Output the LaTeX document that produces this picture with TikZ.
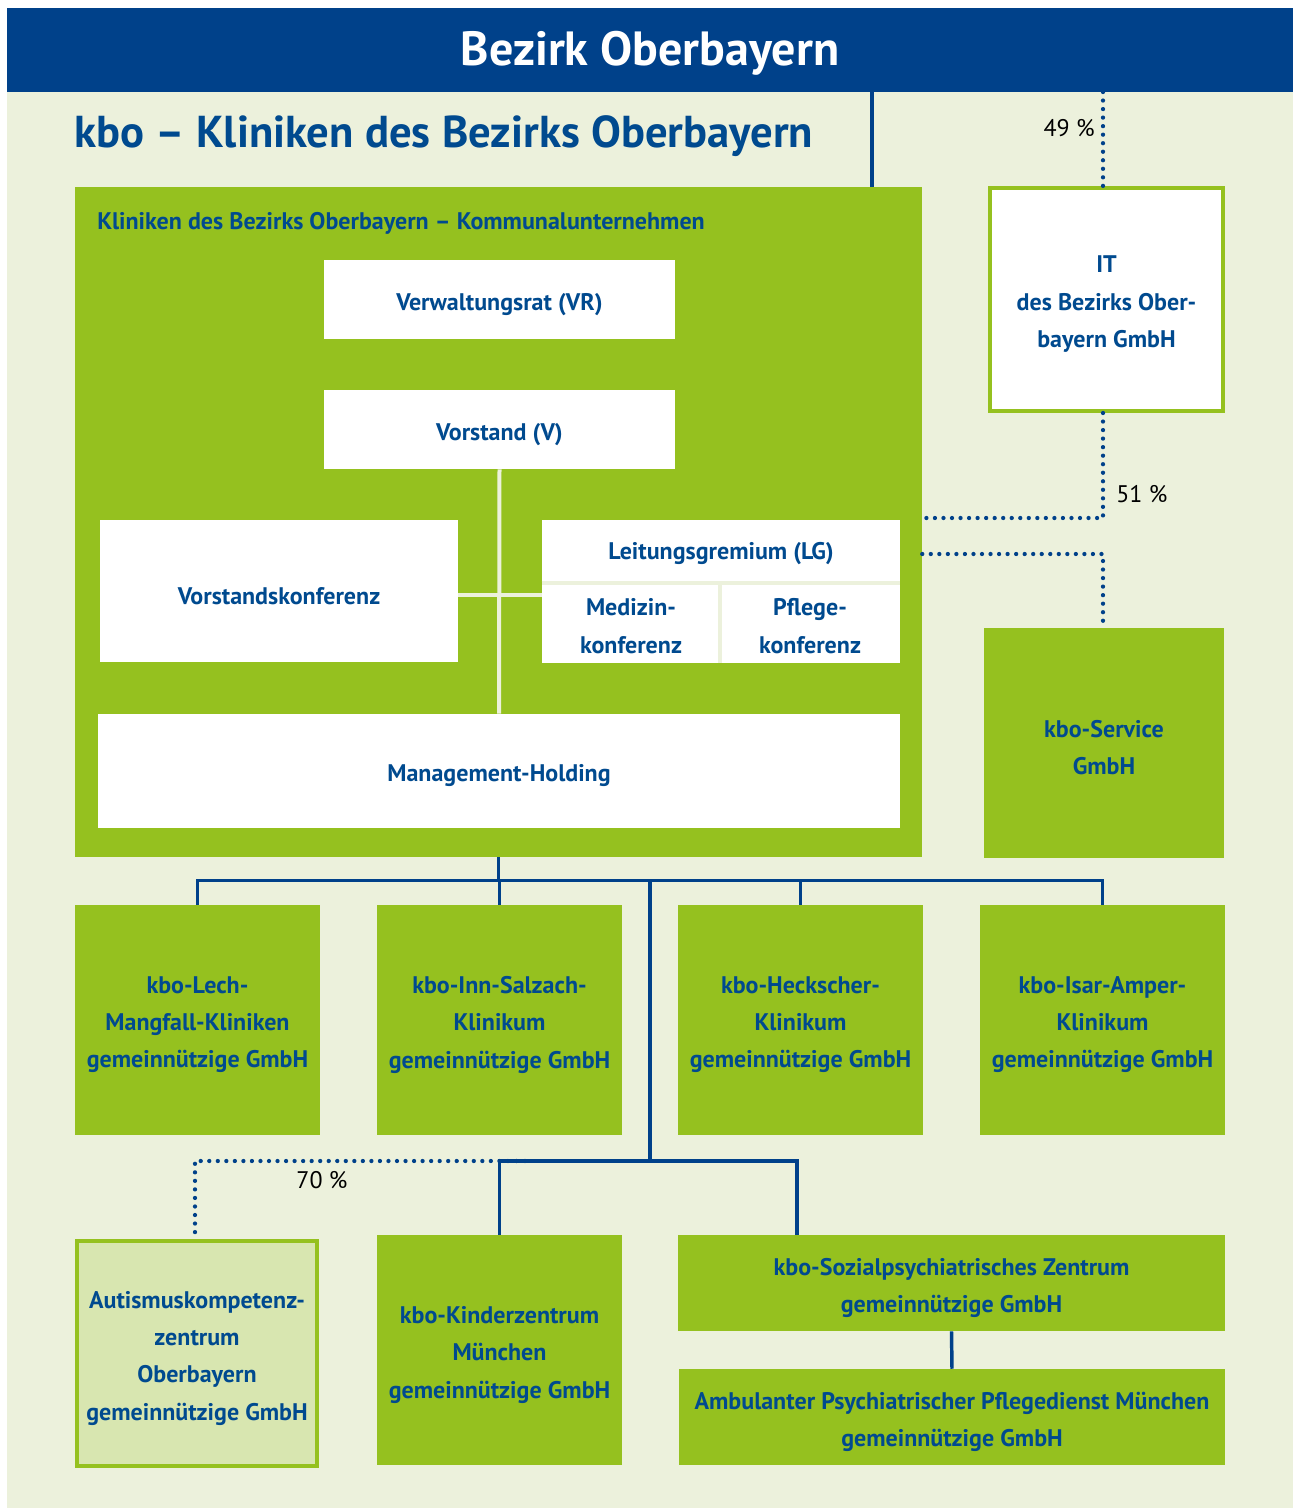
\documentclass[tikz,border=0pt]{standalone}
\usepackage{fontspec}
\setmainfont{PT Sans}
\newfontfamily\lab{PT Sans}
\usetikzlibrary{fit}
\definecolor{kblue}{HTML}{00418A}
\definecolor{kgreen}{HTML}{95C11F}
\definecolor{kbg}{HTML}{ECF1DC}
\definecolor{klight}{HTML}{D8E6B0}
\definecolor{ktext}{HTML}{004A8F}
\begin{document}
\begin{tikzpicture}[x=0.75pt,y=-0.75pt,
  lbl/.style={font=\lab\bfseries\fontsize{18}{28}\selectfont, text=ktext, align=center, inner sep=0pt},
  blbl/.style={lbl, yshift=-3.5pt},
  gbox/.style={fit={#1}, inner sep=0pt, fill=kgreen},
  wbox/.style={fit={#1}, inner sep=0pt, fill=white},
  obox/.style={fit={#1}, inner sep=0pt, fill=white, draw=kgreen, line width=3pt},
  lbox/.style={fit={#1}, inner sep=0pt, fill=klight, draw=kgreen, line width=3pt},
  bl/.style={draw=kblue, line width=2.6pt},
  dotl/.style={draw=kblue, line width=3.2pt, line cap=round, dash pattern=on 0pt off 6.4pt},
  lightl/.style={draw=kbg, line width=3pt},
  pct/.style={font=\lab\fontsize{18}{20}\selectfont, text=black, inner sep=0pt}]
\useasboundingbox (0,0) rectangle (1293,1511);
\fill[kbg] (7,92) rectangle (1293,1508);
\node[fit={(7,8)(1293,92)}, inner sep=0pt, fill=kblue] (banner) {};
\node[text=white, inner sep=0pt, font=\lab\bfseries\fontsize{36}{40}\selectfont] (bantxt) at (650,53) {Bezirk Oberbayern};
\node[anchor=west, inner sep=0pt, text=ktext, font=\lab\bfseries\fontsize{33.5}{36}\selectfont] (title) at (74,136) {kbo – Kliniken des Bezirks Oberbayern};

% main green box
\node[gbox={(75,187)(922,857)}] (kk) {};
\node[anchor=west, lbl] (kklab) at (97,223) {Kliniken des Bezirks Oberbayern – Kommunalunternehmen};
\node[wbox={(324,260)(675,339)}] (vr) {};
\node[blbl] at (vr) {Verwaltungsrat (VR)};
\node[wbox={(324,390)(675,469)}] (v) {};
\node[blbl] at (v) {Vorstand (V)};
\node[wbox={(100,520)(458,662)}] (vk) {};
\node[blbl] at (vk) {Vorstandskonferenz};
\node[wbox={(542,520)(900,663)}] (lg) {};
\node[wbox={(98,714)(900,828)}] (mh) {};
\node[blbl] at (mh) {Management-Holding};
\coordinate (h1) at (500,595);
\draw[lightl] (v.south) -- (mh.north);
\draw[lightl] (vk.east |- h1) -- (lg.west |- h1);
\coordinate (lgd) at (720,583);
\draw[lightl] (lg.west |- lgd) -- (lg.east |- lgd);
\draw[lightl] (lgd) -- (lgd |- lg.south);
\node[lbl] (lgt) at (721,554) {Leitungsgremium (LG)};
\node[lbl] (med) at (631,626) {Medizin-\\konferenz};
\node[lbl] (pfl) at (810,626) {Pflege-\\konferenz};

% right column
\node[obox={(990,188)(1223,411)}] (it) {};
\node[blbl] at (it) {IT\\des Bezirks Ober-\\bayern GmbH};
\node[gbox={(984,628)(1224,858)}] (sv) {};
\node[blbl] at (sv) {kbo-Service\\GmbH};

% row 2
\node[gbox={(75,905)(320,1135)}] (r1) {};
\node[blbl] at (r1) {kbo-Lech-\\Mangfall-Kliniken\\gemeinnützige GmbH};
\node[gbox={(377,905)(622,1135)}] (r2) {};
\node[blbl] at (r2) {kbo-Inn-Salzach-\\Klinikum\\gemeinnützige GmbH};
\node[gbox={(678,905)(923,1135)}] (r3) {};
\node[blbl] at (r3) {kbo-Heckscher-\\Klinikum\\gemeinnützige GmbH};
\node[gbox={(980,905)(1225,1135)}] (r4) {};
\node[blbl] at (r4) {kbo-Isar-Amper-\\Klinikum\\gemeinnützige GmbH};

% row 3
\node[lbox={(77,1241)(317,1466)}] (au) {};
\node[blbl] at (au) {Autismuskompetenz-\\zentrum\\Oberbayern\\gemeinnützige GmbH};
\node[gbox={(377,1235)(622,1465)}] (k1) {};
\node[blbl] at (k1) {kbo-Kinderzentrum\\München\\gemeinnützige GmbH};
\node[gbox={(678,1235)(1225,1331)}] (s1) {};
\node[blbl] at (s1) {kbo-Sozialpsychiatrisches Zentrum\\gemeinnützige GmbH};
\node[gbox={(679,1369)(1225,1465)}] (a1) {};
\node[blbl] at (a1) {Ambulanter Psychiatrischer Pflegedienst München\\gemeinnützige GmbH};

% dotted connectors
\coordinate (d49) at (1103,92);
\draw[dotl] (d49) -- (d49 |- it.north);
\coordinate (c51) at (1103,518);
\draw[dotl] (c51 |- it.south) -- (c51) -- (c51 -| kk.east);
\coordinate (c2) at (1103,554);
\draw[dotl] (kk.east |- c2) -- (c2) -- (c2 |- sv.north);
\coordinate (c70) at (195,1161);
\coordinate (c70e) at (525,1161);
\draw[dotl] (c70e) -- (c70) -- (c70 |- au.north);

% solid connectors
\coordinate (t1) at (872,92);
\draw[bl] (t1) -- (t1 |- kk.north);
\draw[bl] (kk.south) -- ++(0,23) coordinate (j1);
\draw[bl] (r1.north) -- (r1.north |- j1) -- (r4.north |- j1) -- (r4.north);
\draw[bl] (r2.north) -- (r2.north |- j1);
\draw[bl] (r3.north) -- (r3.north |- j1);
\coordinate (j2) at (650,1161);
\coordinate (j3) at (797,1161);
\draw[bl] (j2 |- j1) -- (j2);
\draw[bl] (k1.north) -- (k1.north |- j2) -- (j3) -- (j3 |- s1.north);
\draw[bl] (s1.south) -- (a1.north);

\node[pct, anchor=east] (p49) at (1095,128) {49 \%};
\node[pct, anchor=west] (p51) at (1116,494) {51 \%};
\node[pct] (p70) at (322,1180) {70 \%};
\end{tikzpicture}
\end{document}
